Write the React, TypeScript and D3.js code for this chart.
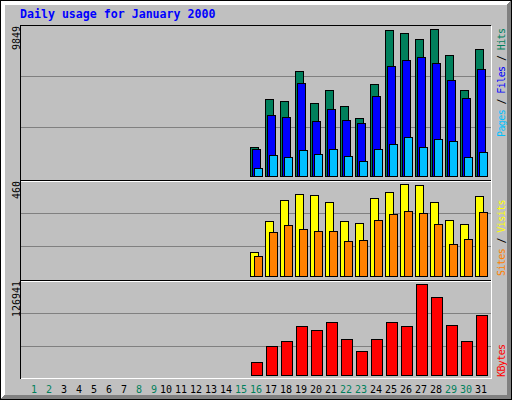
import * as d3 from "d3";

// January 2000, days 1..31 (no traffic before the 16th)
const days = d3.range(1, 32);
const weekendDays = [1, 2, 8, 9, 15, 16, 22, 23, 29, 30];

const hits = [0, 0, 0, 0, 0, 0, 0, 0, 0, 0, 0, 0, 0, 0, 0,
  1943, 5159, 5025, 7035, 4891, 5762, 4690, 3886, 6164, 9782, 9581, 9179, 9849, 8107, 5762, 8509];
const files = [0, 0, 0, 0, 0, 0, 0, 0, 0, 0, 0, 0, 0, 0, 0,
  1809, 4087, 3953, 6231, 3685, 4489, 3752, 3551, 5360, 7370, 7772, 7973, 7571, 6432, 5226, 7169];
const pages = [0, 0, 0, 0, 0, 0, 0, 0, 0, 0, 0, 0, 0, 0, 0,
  536, 1407, 1273, 1742, 1474, 1809, 1340, 1005, 1809, 2144, 2613, 1943, 2479, 2345, 1273, 1608];
const visits = [0, 0, 0, 0, 0, 0, 0, 0, 0, 0, 0, 0, 0, 0, 0,
  120, 275, 380, 410, 405, 370, 275, 265, 390, 420, 460, 456, 370, 280, 260, 400];
const sites = [0, 0, 0, 0, 0, 0, 0, 0, 0, 0, 0, 0, 0, 0, 0,
  100, 220, 255, 235, 225, 225, 175, 180, 280, 310, 325, 315, 260, 160, 185, 320];
const kbytes = [0, 0, 0, 0, 0, 0, 0, 0, 0, 0, 0, 0, 0, 0, 0,
  17940, 40020, 46920, 69000, 62100, 74520, 49680, 33120, 49680, 74520, 69000, 126941, 109020, 70380, 46920, 84180];

const W = 512;
const H = 400;
const GREY = "#c0c0c0";
const DKGREY = "#808080";
const DKGREEN = "#00805c";
const MONO = "'DejaVu Sans Mono', monospace";

const xDay = d3.scaleLinear().domain([1, 31]).range([25, 475]);

const Bars = ({ values, y, offset, width, color }: {
  values: number[]; y: d3.ScaleLinear<number, number>; offset: number; width: number; color: string;
}) => (
  <g>
    {values.map((v, i) => {
      if (v <= 0) return null;
      const x1 = xDay(days[i]) + offset;
      const y1 = Math.round(y(v));
      const y0 = y(0);
      return (
        <rect key={i} x={x1 + 0.5} y={y1 + 0.5} width={width} height={y0 - y1}
          fill={color} stroke="#000" strokeWidth={1} />
      );
    })}
  </g>
);

const App = () => {
  const maxTop = d3.max(hits) as number;
  const maxMid = d3.max(visits) as number;
  const maxBot = d3.max(kbytes) as number;

  const yTop = d3.scaleLinear().domain([0, maxTop]).range([176, 29]);
  const yMid = d3.scaleLinear().domain([0, maxMid]).range([276, 184]);
  const yBot = d3.scaleLinear().domain([0, maxBot]).range([375, 284]);

  const gridTop = [76, 127];
  const gridMid = [213, 246];
  const gridBot = [313, 346];

  const bevel = [1, 2, 3, 4];

  const maxLabels = [
    { text: String(maxTop), top: 25 },
    { text: String(maxMid), top: 180 },
    { text: String(maxBot), top: 280 },
  ];

  const legendStyle = { whiteSpace: "pre" as const, letterSpacing: "-0.6px" };

  return (
    <svg width={W} height={H} shapeRendering="crispEdges"
      style={{ position: "fixed", left: 0, top: 0, display: "block" }}>
      <rect x={0} y={0} width={W} height={H} fill={GREY} />
      <rect x={0.5} y={0.5} width={W - 1} height={H - 1} fill="none" stroke="#000" />
      {bevel.map((i) => (
        <g key={i}>
          <line x1={i} y1={i + 0.5} x2={W - i - 1} y2={i + 0.5} stroke="#fff" />
          <line x1={i + 0.5} y1={i} x2={i + 0.5} y2={H - i - 1} stroke="#fff" />
          <line x1={i} y1={H - i - 0.5} x2={W - i} y2={H - i - 0.5} stroke={DKGREY} />
          <line x1={W - i - 0.5} y1={i} x2={W - i - 0.5} y2={H - i} stroke={DKGREY} />
        </g>
      ))}

      {/* chart frame */}
      <line x1={20} y1={25.5} x2={491} y2={25.5} stroke="#000" />
      <line x1={20.5} y1={25} x2={20.5} y2={379} stroke="#000" />
      <line x1={21} y1={378.5} x2={492} y2={378.5} stroke="#fff" />
      <line x1={491.5} y1={26} x2={491.5} y2={379} stroke="#fff" />
      <line x1={21} y1={180.5} x2={491} y2={180.5} stroke="#000" />
      <line x1={21} y1={181.5} x2={491} y2={181.5} stroke="#fff" />
      <line x1={21} y1={280.5} x2={491} y2={280.5} stroke="#000" />
      <line x1={21} y1={281.5} x2={491} y2={281.5} stroke="#fff" />

      {[...gridTop, ...gridMid, ...gridBot].map((gy) => (
        <line key={gy} x1={21} y1={gy + 0.5} x2={491} y2={gy + 0.5} stroke={DKGREY} />
      ))}

      <text x={20} y={18} fontFamily={MONO} fontWeight="bold" fontSize={11.6} fill="#0000ff">
        Daily usage for January 2000
      </text>

      {/* bars */}
      <Bars values={hits} y={yTop} offset={0} width={8} color={DKGREEN} />
      <Bars values={files} y={yTop} offset={2} width={8} color="#0000ff" />
      <Bars values={pages} y={yTop} offset={4} width={8} color="#00c0ff" />
      <Bars values={visits} y={yMid} offset={0} width={8} color="#ffff00" />
      <Bars values={sites} y={yMid} offset={4} width={8} color="#ff8000" />
      <Bars values={kbytes} y={yBot} offset={1} width={11} color="#ff0000" />

      {/* day labels */}
      {days.map((d) => (
        <text key={d} x={xDay(d)} y={393} fontFamily={MONO} fontSize={10}
          fill={weekendDays.includes(d) ? DKGREEN : "#000"} style={{ whiteSpace: "pre" }}>
          {d < 10 ? " " + d : String(d)}
        </text>
      ))}

      {/* max value labels */}
      {maxLabels.map((m) => (
        <text key={m.text} transform={`translate(19.5,${m.top + 1 + m.text.length * 6}) rotate(-90)`}
          fontFamily={MONO} fontSize={10} fill="#000">
          {m.text}
        </text>
      ))}

      {/* legends */}
      <text transform="translate(504.5,137) rotate(-90)" fontFamily={MONO} fontSize={10}
        style={legendStyle}>
        <tspan fill="#00c0ff">Pages</tspan>
        <tspan fill="#000"> / </tspan>
        <tspan fill="#0000ff">Files</tspan>
        <tspan fill="#000"> / </tspan>
        <tspan fill={DKGREEN}>Hits</tspan>
      </text>
      <text transform="translate(504.5,276) rotate(-90)" fontFamily={MONO} fontSize={10}
        style={legendStyle}>
        <tspan fill="#ff8000">Sites</tspan>
        <tspan fill="#000"> / </tspan>
        <tspan fill="#ffff00">Visits</tspan>
      </text>
      <text transform="translate(504.5,377) rotate(-90)" fontFamily={MONO} fontSize={10}
        fill="#ff0000" style={legendStyle}>
        KBytes
      </text>
    </svg>
  );
};

export default App;
